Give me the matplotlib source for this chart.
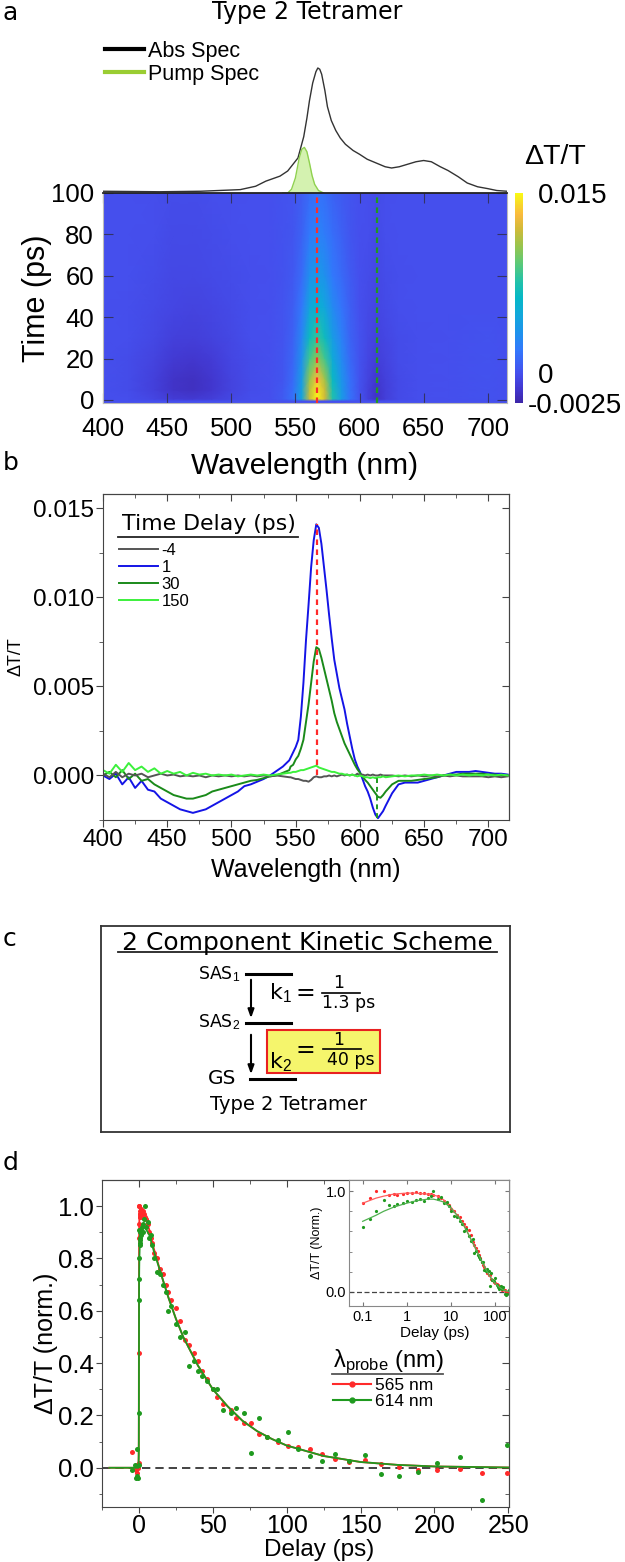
import numpy as np
import matplotlib
matplotlib.use("Agg")
import matplotlib.pyplot as plt
from matplotlib.colors import LinearSegmentedColormap
from matplotlib.patches import Rectangle
from matplotlib.lines import Line2D
from matplotlib.transforms import ScaledTranslation

# ---------------- panel a: absorption / pump spectra ----------------
abs_wl = [400, 444, 476, 507, 519, 527, 538, 544, 552, 556.5, 559, 561, 563.5, 566, 567.5,
          569, 570.5, 573, 575, 578, 581.5, 585, 589, 595, 600, 606, 613, 620, 625, 631,
          637.5, 644, 650, 656, 663, 669, 677, 684, 692, 700, 707, 715]
abs_val = [0.014, 0.010, 0.014, 0.027, 0.054, 0.095, 0.135, 0.176, 0.28, 0.45, 0.60, 0.74, 0.88,
           0.97, 1.0, 0.99, 0.95, 0.82, 0.69, 0.58, 0.50, 0.44, 0.39, 0.34, 0.31, 0.27, 0.24,
           0.21, 0.20, 0.21, 0.23, 0.25, 0.26, 0.25, 0.21, 0.18, 0.13, 0.08, 0.05, 0.035, 0.02, 0.014]
pump_wl = [540, 544, 547, 550, 553, 555, 557, 559, 561, 563, 565, 568, 572]
pump_val = [0, 0.0, 0.03, 0.12, 0.28, 0.35, 0.365, 0.33, 0.24, 0.14, 0.07, 0.02, 0.0]

# panel a: dT/T map (units of 1e-3), one row per time delay
hm_wl = [400, 420, 440, 455, 470, 485, 500, 515, 530, 540, 548, 555, 561, 567, 573, 579, 586,
         593, 600, 607, 613, 620, 630, 645, 670, 700, 715]
hm_t = [-1.5, -0.5, 0.5, 5, 10, 20, 30, 45, 60, 80, 100]
hm_pre = [0] * 27
hm_0 = [0, -0.1, -0.5, -1.0, -1.2, -0.9, -0.4, -0.1, 0.0, 0.5, 1.5, 4.6, 11.8, 14.8, 12.0, 7.5, 4.0,
        1.6, 0.2, -0.8, -1.6, -0.9, -0.3, -0.1, 0.0, 0.1, 0.0]
hm_5 = [0, -0.2, -0.8, -1.5, -1.7, -1.3, -0.6, -0.2, 0.0, 0.4, 1.4, 4.4, 11.5, 14.5, 11.8, 7.2, 3.8,
        1.5, 0.1, -0.8, -1.5, -0.9, -0.3, -0.1, 0.0, 0.1, 0.0]
hm_10 = [0, -0.2, -0.8, -1.5, -1.7, -1.3, -0.6, -0.2, 0.0, 0.3, 1.2, 4.0, 10.5, 13.3, 10.8, 6.5, 3.5,
         1.4, 0.1, -0.7, -1.3, -0.8, -0.3, -0.1, 0.0, 0.1, 0.0]
hm_20 = [0, -0.2, -0.6, -1.2, -1.3, -1.0, -0.5, -0.2, 0.0, 0.3, 1.0, 3.3, 8.4, 10.4, 8.4, 5.1, 2.9,
         1.1, 0.1, -0.5, -0.9, -0.6, -0.2, -0.1, 0.0, 0.1, 0.0]
hm_30 = [0, -0.1, -0.4, -0.8, -0.9, -0.7, -0.4, -0.1, 0.0, 0.2, 0.8, 2.7, 6.6, 8.1, 6.7, 4.1, 2.4,
         0.9, 0.1, -0.4, -0.7, -0.5, -0.2, -0.1, 0.0, 0.1, 0.0]
hm_45 = [0, -0.1, -0.3, -0.5, -0.6, -0.5, -0.3, -0.1, 0.0, 0.2, 0.6, 1.9, 4.6, 5.7, 4.7, 2.9, 1.7,
         0.7, 0.0, -0.3, -0.5, -0.3, -0.1, 0.0, 0.0, 0.0, 0.0]
hm_60 = [0, 0.0, -0.2, -0.4, -0.4, -0.3, -0.2, -0.1, 0.0, 0.1, 0.4, 1.3, 3.2, 3.9, 3.3, 2.0, 1.2,
         0.5, 0.0, -0.2, -0.4, -0.2, -0.1, 0.0, 0.0, 0.0, 0.0]
hm_80 = [0, 0.0, -0.1, -0.3, -0.3, -0.2, -0.1, 0.0, 0.0, 0.1, 0.3, 0.9, 2.0, 2.6, 2.1, 1.4, 0.8,
         0.3, 0.0, -0.1, -0.3, -0.1, 0.0, 0.0, 0.0, 0.0, 0.0]
hm_100 = [0, 0.0, -0.1, -0.2, -0.2, -0.1, -0.1, 0.0, 0.0, 0.1, 0.2, 0.6, 1.3, 1.7, 1.4, 0.9, 0.5,
          0.2, 0.0, -0.1, -0.2, -0.1, 0.0, 0.0, 0.0, 0.0, 0.0]
probe_red = 566.5
probe_green = 613.5

# ---------------- panel b: spectra at fixed delays (units of 1e-3) ----------------
b_wl = np.concatenate([np.arange(400, 546, 5), np.arange(546, 621, 2), np.arange(625, 716, 5)])
b_delays = ['-4', '1', '30', '150']
b_m4 = [0.1, -0.1, 0.2, -0.1, 0.1, 0.0, 0.1, -0.1, 0.0, 0.1, 0.0, 0.05, -0.05, 0.0, -0.05, 0.0,
        -0.1, 0.0, -0.05, 0.0, -0.05, 0.0, -0.05, 0.0, -0.05, 0.0, -0.05, 0.0, -0.05, -0.1,
        -0.1, -0.15, -0.2, -0.2, -0.25, -0.3, -0.3, -0.35, -0.25, -0.1, -0.05, -0.1, -0.1, -0.05,
        -0.05, 0.0, -0.05, 0.0, -0.05, 0.0, 0.05, 0.0, 0.05, 0.0, 0.05, 0.0, 0.1, 0.0, 0.05, 0.0,
        0.05, 0.0, 0.05, 0.0, 0.0, 0.05, 0.0, 0.0,
        0.0, -0.05, 0.0, -0.05, 0.0, -0.05, 0.0, -0.05, 0.0, -0.05, 0.0, -0.05, -0.05, -0.05,
        -0.05, -0.1, -0.05, -0.1, -0.05]
b_1 = [0.0, -0.2, 0.1, -0.5, -0.1, -0.7, -0.3, -0.8, -0.9, -1.3, -1.5, -1.7, -1.9, -2.0, -2.1,
       -2.0, -1.9, -1.7, -1.5, -1.3, -1.1, -0.9, -0.6, -0.5, -0.35, -0.2, 0.0, 0.25, 0.5, 0.85,
       1.0, 1.3, 1.6, 2.0, 3.3, 5.2, 7.6, 9.6, 11.7, 13.2, 14.1, 13.9, 13.0, 11.7, 10.4, 9.0, 7.7,
       6.5, 5.7, 4.9, 4.3, 3.7, 2.9, 2.2, 1.5, 0.9, 0.5, 0.2, -0.2, -0.6, -0.9, -1.3, -1.8, -2.2,
       -2.4, -2.2, -2.0, -1.7,
       -1.0, -0.5, -0.4, -0.4, -0.4, -0.3, -0.2, -0.1, 0.0, 0.1, 0.2, 0.2, 0.2, 0.25, 0.2, 0.15,
       0.1, 0.1, 0.05]
b_30 = [0.0, 0.2, -0.1, 0.3, -0.2, 0.1, -0.3, -0.2, -0.5, -0.7, -0.9, -1.1, -1.2, -1.3, -1.3,
        -1.2, -1.1, -0.9, -0.8, -0.7, -0.6, -0.5, -0.4, -0.3, -0.25, -0.15, -0.05, 0.0, 0.15, 0.3,
        0.5, 0.6, 0.9, 1.1, 1.5, 2.0, 3.0, 4.0, 5.2, 6.4, 7.2, 7.1, 6.6, 6.0, 5.4, 4.8, 4.2, 3.5,
        3.0, 2.6, 2.2, 1.8, 1.5, 1.2, 0.9, 0.6, 0.35, 0.15, -0.05, -0.25, -0.4, -0.6, -0.8, -1.0,
        -1.2, -1.25, -1.1, -0.9,
        -0.5, -0.3, -0.3, -0.3, -0.25, -0.2, -0.15, -0.1, 0.0, 0.05, 0.05, 0.1, 0.1, 0.1, 0.1,
        0.05, 0.05, 0.0, 0.0]
b_150 = [0.3, 0.1, 0.6, 0.2, 0.7, 0.3, 0.5, 0.2, 0.4, 0.1, 0.25, 0.1, 0.2, 0.0, 0.15, 0.05, 0.1,
         0.0, 0.05, 0.0, 0.05, -0.05, 0.0, 0.05, 0.0, 0.05, 0.0, 0.05, 0.1, 0.15,
         0.15, 0.2, 0.2, 0.25, 0.3, 0.3, 0.35, 0.4, 0.45, 0.5, 0.55, 0.45, 0.4, 0.35, 0.3, 0.25,
         0.2, 0.2, 0.15, 0.1, 0.1, 0.05, 0.05, 0.0, 0.05, 0.0, -0.05, 0.0, -0.05, -0.1, -0.1,
         -0.15, -0.1, -0.15, -0.1, -0.1, -0.05, -0.1,
         -0.05, 0.0, -0.05, 0.0, 0.0, 0.05, 0.0, 0.05, 0.0, 0.05, 0.0, 0.05, 0.0, 0.05, 0.0, 0.05,
         0.0, 0.05, 0.0]

# ---------------- panel c: kinetic scheme ----------------
levels = ['SAS$_1$', 'SAS$_2$', 'GS']
rate_names = ['k$_1$', 'k$_2$']
lifetimes = ['1.3 ps', '40 ps']

# ---------------- panel d: kinetics ----------------
delays = np.array([-5, -3, -2, -1.5, -1, -0.5, -0.2, 0.0,
                   0.1, 0.15, 0.2, 0.3, 0.4, 0.5, 0.6, 0.8, 1.0, 1.3, 1.6, 2, 2.5, 3, 3.5, 4, 5, 6,
                   7, 8, 9, 10,
                   12, 14, 16, 18, 20, 22, 25, 28, 31, 34, 37, 40, 43, 46, 50, 53, 57, 62, 66, 71,
                   76, 81, 87, 94, 101, 108, 116, 124, 133, 142, 153, 164, 176, 189, 202, 217, 232, 249])
kin_565 = np.array([0.06, 0.0, -0.01, 0.01, -0.02, 0.0, 0.02, 0.44,
                    0.88, 0.93, 1.00, 1.00, 0.96, 0.97, 0.96, 0.97, 0.98, 0.98, 0.99, 0.98, 0.98,
                    0.97, 0.97, 0.96, 0.95, 0.93, 0.90, 0.88, 0.86, 0.82,
                    0.80, 0.76, 0.74, 0.70, 0.67, 0.64, 0.61, 0.56, 0.49, 0.47, 0.44, 0.41, 0.37,
                    0.34, 0.30, 0.27, 0.245, 0.22, 0.19, 0.17,
                    0.17, 0.13, 0.117, 0.10, 0.085, 0.079, 0.073, 0.054, 0.034, 0.022, 0.028, 0.015,
                    0.003, -0.01, -0.01, -0.004, -0.02, -0.02])
kin_614 = np.array([-0.01, 0.01, -0.04, 0.07, -0.03, -0.04, 0.01, 0.21,
                    0.64, 0.72, 0.80, 0.91, 0.86, 0.85, 0.87, 0.88, 0.90, 0.89, 0.91, 0.92, 0.90,
                    0.93, 0.95, 1.00, 0.92, 0.94, 0.88, 0.89, 0.85, 0.80,
                    0.75, 0.74, 0.70, 0.67, 0.60, 0.62, 0.55, 0.50, 0.52, 0.39, 0.41, 0.37, 0.35,
                    0.33, 0.30, 0.30, 0.22, 0.21, 0.23, 0.21,
                    0.057, 0.19, 0.117, 0.107, 0.137, 0.07, 0.045, 0.026, 0.054, 0.026, 0.05,
                    -0.023, -0.033, -0.017, 0.02, 0.04, -0.125, 0.086])
fit_t = np.array([-20, -0.3, -0.1, 0, 0.1, 0.2, 0.3, 0.5, 0.7, 1, 1.5, 2, 3, 4, 5, 7, 10, 15, 20,
                  25, 30, 40, 50, 60, 70, 80, 90, 100, 125, 150, 175, 200, 250])
fit_565 = np.array([0, 0, 0.1, 0.6, 0.88, 0.93, 0.95, 0.97, 0.975, 0.98, 0.98, 0.975, 0.97, 0.96,
                    0.95, 0.91, 0.84, 0.74, 0.65, 0.57, 0.50, 0.39, 0.30, 0.235, 0.18, 0.14, 0.11,
                    0.085, 0.045, 0.022, 0.011, 0.005, 0.001])
fit_614 = np.array([0, 0, 0.05, 0.3, 0.70, 0.76, 0.80, 0.84, 0.86, 0.88, 0.90, 0.91, 0.92, 0.92,
                    0.91, 0.89, 0.83, 0.74, 0.65, 0.57, 0.50, 0.39, 0.30, 0.235, 0.18, 0.14, 0.11,
                    0.085, 0.045, 0.022, 0.011, 0.005, 0.001])

# ---------------- style ----------------
W, H = 625, 1562
VERD = ['DejaVu Sans']
RED = '#ff2a2a'
GRN = '#1f9a1f'

plt.rcParams['font.family'] = ['Liberation Sans', 'DejaVu Sans']
plt.rcParams['mathtext.fontset'] = 'custom'
plt.rcParams['mathtext.rm'] = 'Liberation Sans'
plt.rcParams['mathtext.it'] = 'Liberation Sans:italic'

parula = LinearSegmentedColormap.from_list('parula_like', [
    (0.00, (0.24, 0.15, 0.66)), (0.07, (0.26, 0.22, 0.82)), (0.14, (0.27, 0.31, 0.93)),
    (0.25, (0.20, 0.47, 0.99)), (0.33, (0.12, 0.57, 0.93)), (0.42, (0.07, 0.66, 0.86)),
    (0.50, (0.02, 0.72, 0.78)), (0.58, (0.14, 0.76, 0.66)), (0.67, (0.37, 0.79, 0.46)),
    (0.75, (0.60, 0.77, 0.30)), (0.83, (0.82, 0.73, 0.22)), (0.90, (0.98, 0.73, 0.24)),
    (0.95, (0.97, 0.85, 0.16)), (1.00, (0.98, 0.98, 0.08))])


def box(l, t, r, b):
    return [l / W, 1 - b / H, (r - l) / W, (b - t) / H]


def mirror_ticks(ax, xmaj, xmin, ymaj, ymin, length=5, color='#444444'):
    sx = ax.secondary_xaxis('top')
    sx.set_xticks(xmaj)
    sx.set_xticks(xmin, minor=True)
    sx.tick_params(which='both', direction='in', labeltop=False, color=color)
    sx.tick_params(which='minor', length=length * 0.6)
    sx.tick_params(which='major', length=length)
    sx.spines['top'].set_color(color)
    sy = ax.secondary_yaxis('right')
    sy.set_yticks(ymaj)
    sy.set_yticks(ymin, minor=True)
    sy.tick_params(which='both', direction='in', labelright=False, color=color)
    sy.tick_params(which='minor', length=length * 0.6)
    sy.tick_params(which='major', length=length)
    sy.spines['right'].set_color(color)


def hline(x0, x1, y, lw=1.3, color='#222222'):
    fig.add_artist(Line2D([x0 / W, x1 / W], [1 - y / H, 1 - y / H], color=color, lw=lw))


fig = plt.figure(figsize=(W / 100, H / 100), dpi=100)

# ================= panel a =================
fig.text(3 / W, 1 - 13 / H, 'a', family=VERD, fontsize=18, va='center')
fig.text(307 / W, 1 - 12 / H, 'Type 2 Tetramer', family=VERD, fontsize=17, ha='center', va='center')

ax_abs = fig.add_axes(box(103, 35, 507, 193))
ax_abs.plot(abs_wl, abs_val, color='#333333', lw=1.0)
ax_abs.fill_between(pump_wl, pump_val, color='#d4f2b0', lw=0)
ax_abs.plot(pump_wl, pump_val, color='#8fd14f', lw=1.0)
ax_abs.set_xlim(400, 715)
ax_abs.set_ylim(0, 1.264)
ax_abs.axis('off')
fig.legend([Line2D([], [], color='black', lw=3), Line2D([], [], color='#9acd32', lw=3)],
           ['Abs Spec', 'Pump Spec'], loc='upper left', bbox_to_anchor=(105 / W, 1 - 40.5 / H),
           frameon=False, fontsize=15.5, handlelength=1.8, handletextpad=0.19, labelspacing=0.1,
           borderpad=0, borderaxespad=0)

ax_hm = fig.add_axes(box(103, 193, 507, 403))
C = np.array([hm_pre, hm_pre, hm_0, hm_5, hm_10, hm_20, hm_30, hm_45, hm_60, hm_80, hm_100]) * 1e-3
mesh = ax_hm.pcolormesh(hm_wl, hm_t, C, cmap=parula, vmin=-0.0025, vmax=0.015, shading='gouraud')
ax_hm.axvline(probe_red, color=RED, ls=(0, (2.5, 2)), lw=1.6)
ax_hm.axvline(probe_green, color=GRN, ls=(0, (2.5, 2)), lw=1.6)
ax_hm.set_xlim(400, 715)
ax_hm.set_ylim(-1.5, 100)
ax_hm.set_xticks(range(400, 701, 50))
ax_hm.set_yticks(range(0, 101, 20))
ax_hm.tick_params(direction='in', length=7, width=0.8, color='#333366', top=True, right=True,
                  labelsize=18.5)
ax_hm.tick_params(axis='x', pad=10)
ax_hm.tick_params(axis='y', pad=6.5)
for s in ax_hm.spines.values():
    s.set_color('#bbbbbb')
    s.set_linewidth(0.8)
ax_hm.spines['top'].set_color('#222222')
ax_hm.spines['top'].set_linewidth(1.3)
ax_hm.set_xlabel('Wavelength (nm)', fontsize=21.5)
ax_hm.xaxis.set_label_coords(0.5, -0.233)
ax_hm.set_ylabel('Time (ps)', fontsize=22)
ax_hm.yaxis.set_label_coords(-0.126, 0.5)

cax = fig.add_axes(box(515, 193, 523, 403))
cb = fig.colorbar(mesh, cax=cax, ticks=[-0.0025, 0, 0.015])
cb.ax.set_yticklabels(['-0.0025', '0', '0.015'])
cb.ax.tick_params(length=0, labelsize=20, pad=11)
cb.outline.set_visible(False)
neg_lbl = cb.ax.get_yticklabels()[0]
neg_lbl.set_transform(neg_lbl.get_transform() + ScaledTranslation(-11 / 100, 0, fig.dpi_scale_trans))
fig.text(524 / W, 1 - 157 / H, 'ΔT/T', fontsize=20.5, va='center')

# ================= panel b =================
fig.text(3 / W, 1 - 463 / H, 'b', family=VERD, fontsize=18, va='center')
ax_b = fig.add_axes(box(103, 494, 509, 820))
b_series = [b_m4, b_1, b_30, b_150]
b_colors = ['#555555', '#1414e6', '#1a8a1a', '#3cf03c']
b_order = [1, 2, 0, 3]
lines = [None] * 4
for i in b_order:
    lines[i], = ax_b.plot(b_wl, np.array(b_series[i]) * 1e-3, color=b_colors[i], lw=1.4)
ax_b.vlines(probe_red, 0, max(b_1) * 1e-3, colors=RED, linestyles=(0, (2.5, 2)), lw=1.6, zorder=5)
ax_b.vlines(probe_green, min(b_1) * 1e-3, 0, colors=GRN, linestyles=(0, (2.5, 2)), lw=1.4, zorder=5)
ax_b.set_xlim(400, 716)
ax_b.set_ylim(-0.00245, 0.0158)
b_xt, b_xm = list(range(400, 701, 50)), list(range(425, 716, 50))
b_yt = [0, 0.005, 0.010, 0.015]
b_ym = [-0.0025, 0.0025, 0.0075, 0.0125]
ax_b.set_xticks(b_xt)
ax_b.set_xticks(b_xm, minor=True)
ax_b.set_yticks(b_yt)
ax_b.set_yticks(b_ym, minor=True)
ax_b.set_yticklabels(['0.000', '0.005', '0.010', '0.015'])
ax_b.tick_params(which='both', direction='out', color='#444444', labelsize=17.5, pad=1.5)
ax_b.tick_params(which='major', length=5)
ax_b.tick_params(which='minor', length=3)
for s in ax_b.spines.values():
    s.set_color('#444444')
mirror_ticks(ax_b, b_xt, b_xm, b_yt, b_ym)
ax_b.set_xlabel('Wavelength (nm)', fontsize=18)
ax_b.xaxis.set_label_coords(0.5, -0.117)
ax_b.set_ylabel('ΔT/T', fontsize=13)
ax_b.yaxis.set_label_coords(-0.193, 0.5)
ax_b.legend(lines, b_delays, loc='upper left', bbox_to_anchor=((119 - 103) / 406, (820 - 543.3) / 326),
            frameon=False, fontsize=12, handlelength=2.34, handletextpad=0.2, labelspacing=0.11,
            borderpad=0, borderaxespad=0)
fig.text(122 / W, 1 - 524 / H, 'Time Delay (ps)', family=VERD, fontsize=15.8, va='center')
hline(118, 298, 536.5)

# ================= panel c =================
fig.text(3 / W, 1 - 939 / H, 'c', family=VERD, fontsize=18, va='center')
ax_c = fig.add_axes(box(101, 926, 510, 1132))
ax_c.set_xlim(0, 409)
ax_c.set_ylim(206, 0)
ax_c.set_xticks([])
ax_c.set_yticks([])
for s in ax_c.spines.values():
    s.set_color('#333333')
    s.set_linewidth(1.3)
ax_c.text(206.5, 24, '2 Component Kinetic Scheme', family=VERD, fontsize=18, ha='center', va='baseline')
ax_c.plot([17, 396], [26.5, 26.5], color='#222222', lw=1.3)
# energy levels
ax_c.plot([145, 190], [48, 48], color='black', lw=2.2)
ax_c.plot([145, 190], [97, 97], color='black', lw=2.2)
ax_c.plot([149, 194], [153, 153], color='black', lw=2.2)
ax_c.text(139, 48, levels[0], family=VERD, fontsize=12.5, ha='right', va='center')
ax_c.text(139, 96, levels[1], family=VERD, fontsize=12.5, ha='right', va='center')
ax_c.text(121, 153, levels[2], family=VERD, fontsize=14.5, ha='center', va='center')
for y0, y1 in [(51, 95), (106, 151)]:
    ax_c.annotate('', xy=(150, y1), xytext=(150, y0),
                  arrowprops=dict(arrowstyle='-|>,head_length=0.5,head_width=0.18', color='black', lw=1.5))
ax_c.add_patch(Rectangle((166, 104), 113, 43, facecolor='#f5f56c', edgecolor='#e82020', lw=1.5))
# k1
ax_c.text(168, 67, rate_names[0], family=VERD, fontsize=16, ha='left', va='center')
ax_c.text(204, 67, '=', family=VERD, fontsize=17, ha='center', va='center')
ax_c.text(238, 57, '1', family=VERD, fontsize=12.5, ha='center', va='center')
ax_c.plot([221, 259], [67, 67], color='black', lw=1.2)
ax_c.text(248, 77, lifetimes[0], family=VERD, fontsize=12.5, ha='center', va='center')
# k2
ax_c.text(168, 136, rate_names[1], family=VERD, fontsize=16, ha='left', va='center')
ax_c.text(204, 124, '=', family=VERD, fontsize=17, ha='center', va='center')
ax_c.text(238, 114, '1', family=VERD, fontsize=12.5, ha='center', va='center')
ax_c.plot([222, 260], [123, 123], color='black', lw=1.2)
ax_c.text(250, 134, lifetimes[1], family=VERD, fontsize=12.5, ha='center', va='center')
ax_c.text(187, 179, 'Type 2 Tetramer', family=VERD, fontsize=14, ha='center', va='center')

# ================= panel d =================
fig.text(3 / W, 1 - 1163 / H, 'd', family=VERD, fontsize=18, va='center')
ax_d = fig.add_axes(box(102, 1180, 509, 1507))
ax_d.axhline(0, color='#222222', ls=(0, (5, 3)), lw=1.2, zorder=1)
ax_d.plot(delays, kin_565, 'o', color=RED, ms=3.6, mec='none', zorder=3)
ax_d.plot(fit_t, fit_565, '-', color=RED, lw=1.3, zorder=3)
ax_d.plot(delays, kin_614, 'o', color=GRN, ms=3.6, mec='none', zorder=4)
ax_d.plot(fit_t, fit_614, '-', color=GRN, lw=1.3, zorder=4)
ax_d.set_xlim(-20.5, 250.5)
ax_d.set_ylim(-0.15, 1.10)
d_xt, d_xm = list(range(0, 251, 50)), list(range(-25, 251, 25))
d_yt = [0, 0.2, 0.4, 0.6, 0.8, 1.0]
d_ym = [-0.1, 0.1, 0.3, 0.5, 0.7, 0.9]
ax_d.set_xticks(d_xt)
ax_d.set_xticks(d_xm, minor=True)
ax_d.set_yticks(d_yt)
ax_d.set_yticks(d_ym, minor=True)
ax_d.set_yticklabels(['0.0', '0.2', '0.4', '0.6', '0.8', '1.0'])
ax_d.tick_params(which='both', direction='out', color='#444444', labelsize=18.5, pad=2)
ax_d.tick_params(axis='x', labelsize=18, pad=0.8)
ax_d.tick_params(which='major', length=4)
ax_d.tick_params(which='minor', length=2.5)
for s in ax_d.spines.values():
    s.set_color('#444444')
mirror_ticks(ax_d, d_xt, d_xm, d_yt, d_ym)
ax_d.set_xlabel('Delay (ps)', fontsize=17.5)
ax_d.xaxis.set_label_coords(0.533, -0.097)
ax_d.set_ylabel('ΔT/T (norm.)', fontsize=18)
ax_d.yaxis.set_label_coords(-0.107, 0.5)
ax_d.legend([Line2D([], [], color=RED, lw=1.5, marker='o', ms=3.5),
             Line2D([], [], color=GRN, lw=1.5, marker='o', ms=3.5)],
            ['565 nm', '614 nm'], loc='upper left', bbox_to_anchor=((333 - 102) / 407, (1507 - 1378) / 327),
            frameon=False, fontsize=12.5, handlelength=2.2, handletextpad=0.23, labelspacing=0.05,
            numpoints=1, borderpad=0, borderaxespad=0)
fig.text(333 / W, 1 - 1362 / H, r'λ$_{\mathrm{probe}}$ (nm)', fontsize=17, va='center')
hline(332, 443, 1373.5, color='#555555')

# inset
ax_in = fig.add_axes(box(349, 1180, 509, 1306))
pos = delays > 0
fpos = fit_t > 0
ax_in.set_xscale('log')
ax_in.axhline(0, color='#444444', ls=(0, (4, 2)), lw=0.9)
ax_in.plot(delays[pos], kin_565[pos], 'o', color=RED, ms=2.3, mec='none')
ax_in.plot(fit_t[fpos], fit_565[fpos], '-', color='#ff6060', lw=0.9)
ax_in.plot(delays[pos], kin_614[pos], 'o', color=GRN, ms=2.3, mec='none')
ax_in.plot(fit_t[fpos], fit_614[fpos], '-', color='#50b050', lw=0.9)
ax_in.set_xlim(0.049, 206)
ax_in.set_ylim(-0.14, 1.11)
ax_in.set_xticks([0.1, 1, 10, 100])
ax_in.set_xticklabels(['0.1', '1', '10', '100'])
ax_in.set_yticks([0, 1])
ax_in.set_yticklabels(['0.0', '1.0'])
ax_in.set_yticks([0.2, 0.4, 0.6, 0.8], minor=True)
ax_in.tick_params(which='both', direction='in', color='#777777', labelsize=10.5, top=True, right=True)
ax_in.tick_params(axis='x', pad=2.7)
ax_in.tick_params(axis='y', pad=2)
ax_in.tick_params(which='major', length=3)
ax_in.tick_params(which='minor', length=1.8)
for s in ax_in.spines.values():
    s.set_color('#888888')
    s.set_linewidth(0.8)
ax_in.set_xlabel('Delay (ps)', fontsize=11)
ax_in.xaxis.set_label_coords(0.535, -0.159)
ax_in.set_ylabel('ΔT/T (Norm.)', fontsize=9)
ax_in.yaxis.set_label_coords(-0.163, 0.5)

fig.savefig('out.png', dpi=100)
